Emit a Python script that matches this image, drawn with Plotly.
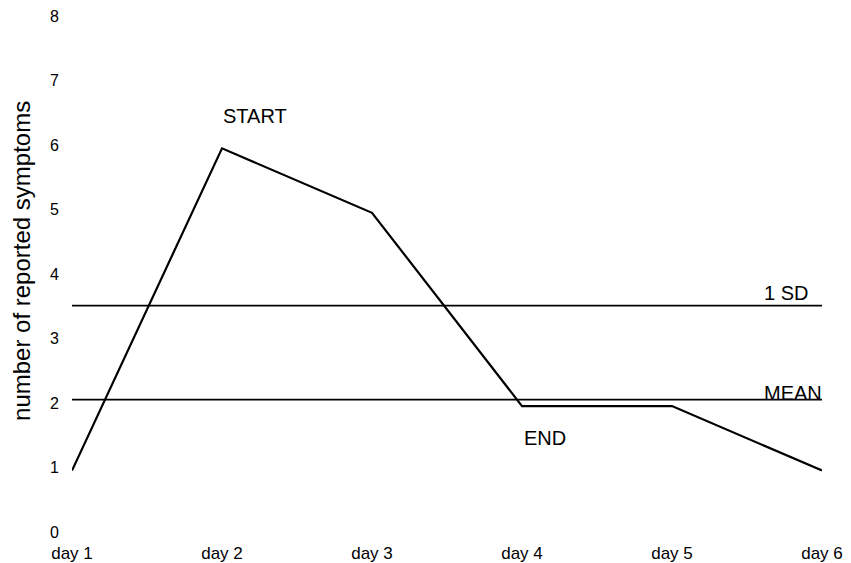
import plotly.graph_objects as go

days = ["day 1", "day 2", "day 3", "day 4", "day 5", "day 6"]
symptoms = [1, 6, 5, 2, 2, 1]
mean_value = 2.1
sd_value = 3.56
y_ticks = [0, 1, 2, 3, 4, 5, 6, 7, 8]
y_title = "number of reported symptoms"

FONT = "Liberation Sans, Arial, sans-serif"

fig = go.Figure()
fig.add_trace(go.Scatter(x=days, y=symptoms, mode="lines",
                         line=dict(color="black", width=2.2), showlegend=False,
                         hoverinfo="skip"))

for val in (sd_value, mean_value):
    fig.add_shape(type="line", xref="paper", x0=0, x1=1, yref="y", y0=val, y1=val,
                  line=dict(color="black", width=1.6))

ann_font = dict(family=FONT, size=20, color="black")
fig.add_annotation(x="day 2", y=6.5, text="START", showarrow=False, xanchor="left",
                   yanchor="middle", xshift=-1, font=ann_font)
fig.add_annotation(x="day 4", y=1.5, text="END", showarrow=False, xanchor="left",
                   yanchor="middle", xshift=0, font=ann_font)
fig.add_annotation(xref="paper", x=0.92, y=sd_value, text="1 SD", showarrow=False,
                   xanchor="left", yanchor="bottom", yshift=0, font=ann_font)
fig.add_annotation(xref="paper", x=0.92, y=mean_value, text="MEAN", showarrow=False,
                   xanchor="left", yanchor="bottom", yshift=-6, font=ann_font)
fig.add_annotation(xref="paper", yref="paper", x=0, y=0.525, xshift=-50,
                   text=y_title, textangle=-90, showarrow=False,
                   xanchor="center", yanchor="middle",
                   font=dict(family=FONT, size=24, color="black"))

fig.update_layout(
    width=843, height=555,
    margin=dict(l=64, r=29, t=5, b=28),
    paper_bgcolor="white", plot_bgcolor="white",
    font=dict(family=FONT, color="black"),
    xaxis=dict(type="category", range=[0, 5], showgrid=False, zeroline=False,
               showline=False, ticks="outside", ticklen=3, tickcolor="rgba(0,0,0,0)",
               automargin=False,
               tickfont=dict(family=FONT, size=17, color="black")),
    yaxis=dict(range=[0, 8.1], tickvals=y_ticks, showgrid=False, zeroline=False,
               showline=False, ticks="outside", ticklen=9, tickcolor="rgba(0,0,0,0)",
               automargin=False, ticklabelshift=-3,
               tickfont=dict(family=FONT, size=16, color="black")),
)

fig.write_html("out.html")
